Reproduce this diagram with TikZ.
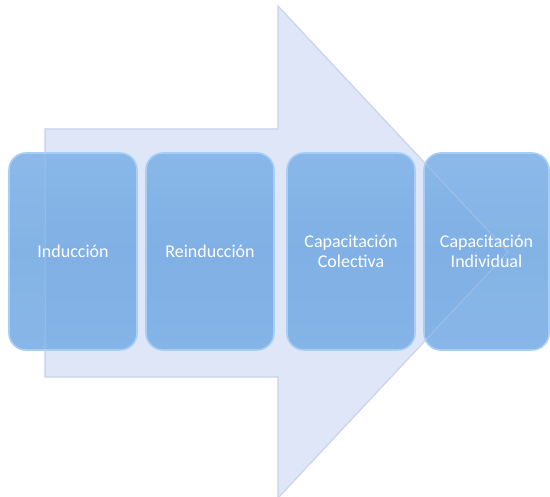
\documentclass[tikz,border=0pt]{standalone}
\usepackage{fontspec}
\setmainfont{Carlito}
\begin{document}
\begin{tikzpicture}[x=1pt,y=-1pt,
  box/.style={rounded corners=17pt, minimum width=128pt, minimum height=197pt,
    inner sep=0pt, text=white, font=\fontsize{18}{20}\selectfont, align=center,
    top color=boxtop, bottom color=boxbot, middle color=boxmid, fill opacity=0.9, text opacity=1,
    draw=boxedge, line width=1.6pt},
  arrowfill/.style={fill=arrowbg, draw=arrowedge, line width=1.2pt}]
\definecolor{boxtop}{HTML}{80B2E8}
\definecolor{boxmid}{HTML}{76ABE3}
\definecolor{boxbot}{HTML}{7CAFE6}
\definecolor{boxedge}{HTML}{A6CFF5}
\definecolor{arrowbg}{HTML}{DEE6F8}
\definecolor{arrowedge}{HTML}{CCD5EC}
\useasboundingbox (0,0) rectangle (550,497);
\fill[white] (0,0) rectangle (550,497);
\coordinate (a1) at (45,129);
\coordinate (a2) at (278,129);
\coordinate (a3) at (278,6);
\coordinate (a4) at (508,252);
\coordinate (a5) at (278,498);
\coordinate (a6) at (278,377);
\coordinate (a7) at (45,377);
\path[arrowfill] (a1) -- (a2) -- (a3) -- (a4) -- (a5) -- (a6) -- (a7) -- cycle;
\node[box] (b1) at (73,251.5) {Inducción};
\node[box] (b2) at (210,251.5) {Reinducción};
\node[box] (b3) at (351,251.5) {Capacitación\\Colectiva};
\node[box, minimum width=125pt] (b4) at (486.5,251.5) {Capacitación\\Individual};
\draw[arrowedge, line width=1pt, opacity=0.4] (a1) -- (a2) -- (a3) -- (a4) -- (a5) -- (a6) -- (a7) -- cycle;
\end{tikzpicture}
\end{document}
